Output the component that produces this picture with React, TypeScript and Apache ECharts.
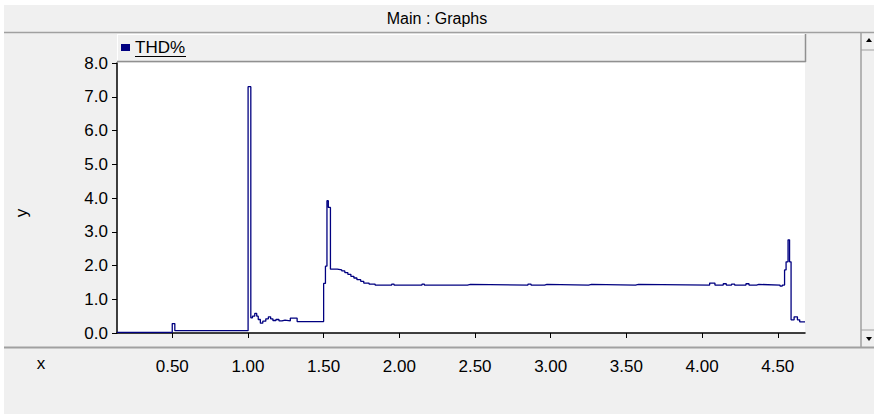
import React, { useEffect, useRef } from "react";
import * as echarts from "echarts";

const seriesName = "THD%";
const xs = [
  0.135, 0.5, 0.517, 1.001, 1.019, 1.03, 1.045, 1.058, 1.068, 1.082, 1.098, 1.118, 1.135, 1.15, 1.165,
  1.185, 1.205, 1.225, 1.245, 1.28, 1.325, 1.5, 1.512, 1.522, 1.531, 1.545, 1.59, 1.62, 1.64, 1.66,
  1.68, 1.7, 1.72, 1.745, 1.765, 1.8, 1.84, 1.95, 1.965, 2.15, 2.165, 2.45, 2.47, 2.85, 2.87, 2.96,
  2.975, 3.25, 3.27, 3.56, 3.58, 4.05, 4.085, 4.14, 4.16, 4.195, 4.215, 4.29, 4.31, 4.36, 4.375,
  4.515, 4.53, 4.545, 4.555, 4.568, 4.578, 4.588, 4.608, 4.63, 4.645, 4.68,
];
const ys = [
  0.02, 0.28, 0.07, 7.3, 0.45, 0.5, 0.58, 0.5, 0.4, 0.29, 0.35, 0.42, 0.48, 0.42, 0.37,
  0.4, 0.36, 0.38, 0.36, 0.44, 0.34, 1.47, 1.98, 3.92, 3.72, 1.89, 1.87, 1.84, 1.79, 1.74,
  1.68, 1.63, 1.58, 1.53, 1.48, 1.45, 1.42, 1.45, 1.42, 1.45, 1.42, 1.44, 1.42, 1.45, 1.42, 1.44,
  1.42, 1.44, 1.42, 1.44, 1.42, 1.48, 1.42, 1.46, 1.42, 1.45, 1.42, 1.46, 1.42, 1.44, 1.42,
  1.39, 1.42, 1.87, 2.11, 2.76, 2.11, 0.39, 0.48, 0.39, 0.33, 0.33,
];
const xTicks = [0.5, 1.0, 1.5, 2.0, 2.5, 3.0, 3.5, 4.0, 4.5];
const xMin = 0.135;
const xMax = 4.68;
const yMin = 0;
const yMax = 8;
const titleText = "Main : Graphs";
const xName = "x";
const yName = "y";

const FONT = "'Liberation Sans', Arial, sans-serif";

export default function App() {
  const ref = useRef<HTMLDivElement>(null);
  useEffect(() => {
    if (!ref.current) return;
    const chart = echarts.init(ref.current, null, { renderer: "svg" });
    const data = xs.map((x, i) => [x, ys[i]]);
    chart.setOption({
      animation: false,
      backgroundColor: "#f0f0f0",
      textStyle: { fontFamily: FONT },
      title: {
        text: titleText,
        left: "center",
        top: 5,
        textStyle: { fontSize: 16, fontWeight: "normal", color: "#000", fontFamily: FONT },
      },
      legend: {
        left: 121,
        top: 39,
        padding: 0,
        icon: "rect",
        itemWidth: 9,
        itemHeight: 7,
        itemGap: 4,
        textStyle: { fontSize: 17, color: "#000", fontFamily: FONT },
        data: [seriesName],
      },
      grid: {
        left: 117,
        top: 63,
        width: 688,
        height: 270,
        show: true,
        backgroundColor: "#ffffff",
        borderWidth: 0,
      },
      xAxis: {
        type: "value",
        min: xMin,
        max: xMax,
        offset: 17,
        axisLine: { show: true, lineStyle: { color: "#000", width: 1.5 } },
        axisTick: { show: true, length: 5, customValues: xTicks, lineStyle: { color: "#000" } },
        axisLabel: {
          customValues: xTicks,
          formatter: (v: number) => v.toFixed(2),
          fontSize: 17,
          color: "#000",
          margin: 8,
          fontFamily: FONT,
        },
        splitLine: { show: false },
      },
      yAxis: {
        type: "value",
        min: yMin,
        max: yMax,
        interval: 1,
        axisLine: { show: true, lineStyle: { color: "#000", width: 1.5 } },
        axisTick: { show: true, length: 5, lineStyle: { color: "#000" } },
        axisLabel: {
          formatter: (v: number) => v.toFixed(1),
          fontSize: 17,
          color: "#000",
          margin: 9,
          fontFamily: FONT,
        },
        splitLine: { show: false },
      },
      series: [
        {
          name: seriesName,
          type: "line",
          step: "end",
          showSymbol: false,
          data,
          color: "#000080",
          lineStyle: { color: "#000080", width: 1.3 },
        },
      ],
      graphic: [
        { type: "rect", shape: { x: 0, y: 0, width: 874, height: 5 }, style: { fill: "#ffffff" }, z: 100 },
        { type: "rect", shape: { x: 0, y: 0, width: 4, height: 414 }, style: { fill: "#ffffff" }, z: 100 },
        { type: "line", shape: { x1: 4, y1: 32.5, x2: 874, y2: 32.5 }, style: { stroke: "#a0a0a0", lineWidth: 1.5 }, z: 100 },
        { type: "line", shape: { x1: 117, y1: 34.5, x2: 805, y2: 34.5 }, style: { stroke: "#ffffff", lineWidth: 1 }, z: 100 },
        { type: "line", shape: { x1: 117.5, y1: 34, x2: 117.5, y2: 62 }, style: { stroke: "#ffffff", lineWidth: 1 }, z: 100 },
        { type: "line", shape: { x1: 117, y1: 61.5, x2: 806, y2: 61.5 }, style: { stroke: "#909090", lineWidth: 1.5 }, z: 100 },
        { type: "line", shape: { x1: 805.5, y1: 34, x2: 805.5, y2: 62 }, style: { stroke: "#909090", lineWidth: 1.5 }, z: 100 },
        { type: "line", shape: { x1: 135, y1: 56.5, x2: 186, y2: 56.5 }, style: { stroke: "#000", lineWidth: 1 }, z: 100 },
        { type: "line", shape: { x1: 4, y1: 347.5, x2: 874, y2: 347.5 }, style: { stroke: "#a0a0a0", lineWidth: 2 }, z: 100 },
        { type: "line", shape: { x1: 861, y1: 33, x2: 861, y2: 347 }, style: { stroke: "#a0a0a0", lineWidth: 1.5 }, z: 100 },
        { type: "line", shape: { x1: 861, y1: 50, x2: 874, y2: 50 }, style: { stroke: "#a0a0a0", lineWidth: 1 }, z: 100 },
        { type: "line", shape: { x1: 861, y1: 330, x2: 874, y2: 330 }, style: { stroke: "#a0a0a0", lineWidth: 1 }, z: 100 },
        { type: "polygon", shape: { points: [[866, 42], [872, 42], [869, 38]] }, style: { fill: "#000" }, z: 100 },
        { type: "polygon", shape: { points: [[866, 337], [872, 337], [869, 341]] }, style: { fill: "#000" }, z: 100 },
        {
          type: "text",
          x: 41,
          y: 363,
          style: { text: xName, fontSize: 17, fill: "#000", fontFamily: FONT, align: "center", verticalAlign: "middle" },
          z: 100,
        },
        {
          type: "text",
          x: 21,
          y: 213,
          rotation: Math.PI / 2,
          style: { text: yName, fontSize: 17, fill: "#000", fontFamily: FONT, align: "center", verticalAlign: "middle" },
          z: 100,
        },
      ],
    });
    return () => chart.dispose();
  }, []);
  return <div ref={ref} style={{ position: "fixed", left: 0, top: 0, width: 874, height: 414 }} />;
}
